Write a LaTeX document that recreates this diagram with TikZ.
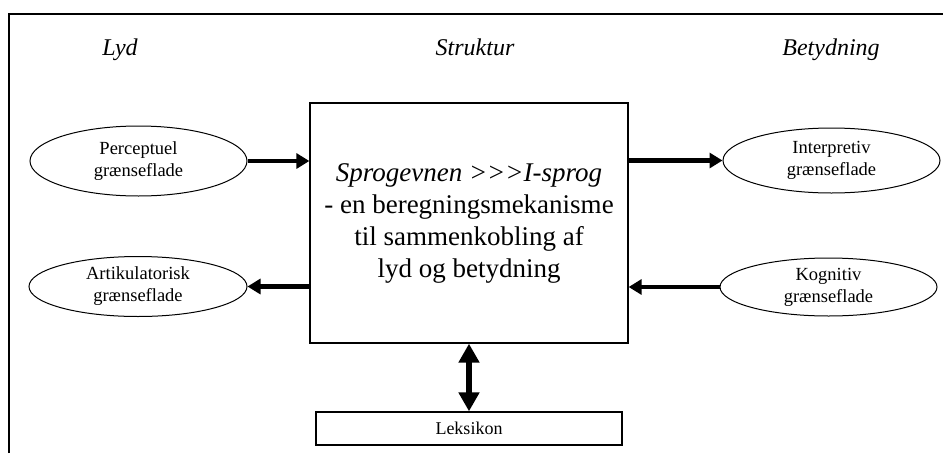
\documentclass[tikz,border=0pt]{standalone}
\usepackage{fontspec}
\setmainfont{Liberation Serif}
\usetikzlibrary{arrows.meta,shapes.geometric}
\begin{document}
\begin{tikzpicture}[x=1pt,y=-1pt,
        interface/.style={draw,ellipse,line width=1pt,inner sep=0pt,align=center,font=\fontsize{18.5}{22}\selectfont},
        heading/.style={anchor=base,font=\fontsize{24}{28}\selectfont\itshape},
        fatarrow/.style={line width=4.5pt,-{Triangle[length=13pt,width=15pt]}},
        bothways/.style={line width=6pt,{Triangle[length=19pt,width=20pt]}-{Triangle[length=19pt,width=20pt]}}]
                \useasboundingbox (0,0) rectangle (943,453);
                \draw[line width=2pt] (9,453) -- (9,14) -- (943,14);
                \node[heading] (lyd) at (120,55) {Lyd};
                \node[heading] (struktur) at (475,55) {Struktur};
                \node[heading] (betydning) at (831,55) {Betydning};
                \node[draw,line width=1.3pt,minimum width=318pt,minimum height=240pt,align=center,
                        font=\fontsize{27}{32}\selectfont] (faculty) at (469,223)
                        {\textit{Sprogevnen >{}>{}>I-sprog}\\- en beregningsmekanisme\\til sammenkobling af\\lyd og betydning};
                \node[interface,minimum width=217pt,minimum height=70pt] (percept) at (138.5,161) {Perceptuel\\grænseflade};
                \node[interface,minimum width=217pt,minimum height=65pt] (interpret) at (831.5,160.5) {Interpretiv\\grænseflade};
                \node[interface,minimum width=218pt,minimum height=60pt] (artic) at (138,286.5) {Artikulatorisk\\grænseflade};
                \node[interface,minimum width=217pt,minimum height=58pt] (cognit) at (828.5,287) {Kognitiv\\grænseflade};
                \node[draw,line width=1.3pt,minimum width=306pt,minimum height=33pt,
                        font=\fontsize{18}{22}\selectfont] (lexicon) at (469,428.5) {Leksikon};
                \draw[fatarrow] (percept.east) -- (percept.east -| faculty.west);
                \draw[fatarrow] (faculty.east |- interpret.west) -- (interpret.west);
                \draw[fatarrow] (faculty.west |- artic.east) -- (artic.east);
                \draw[fatarrow] (cognit.west) -- (cognit.west -| faculty.east);
                \draw[bothways] (faculty.south) -- (lexicon.north);
\end{tikzpicture}
\end{document}
